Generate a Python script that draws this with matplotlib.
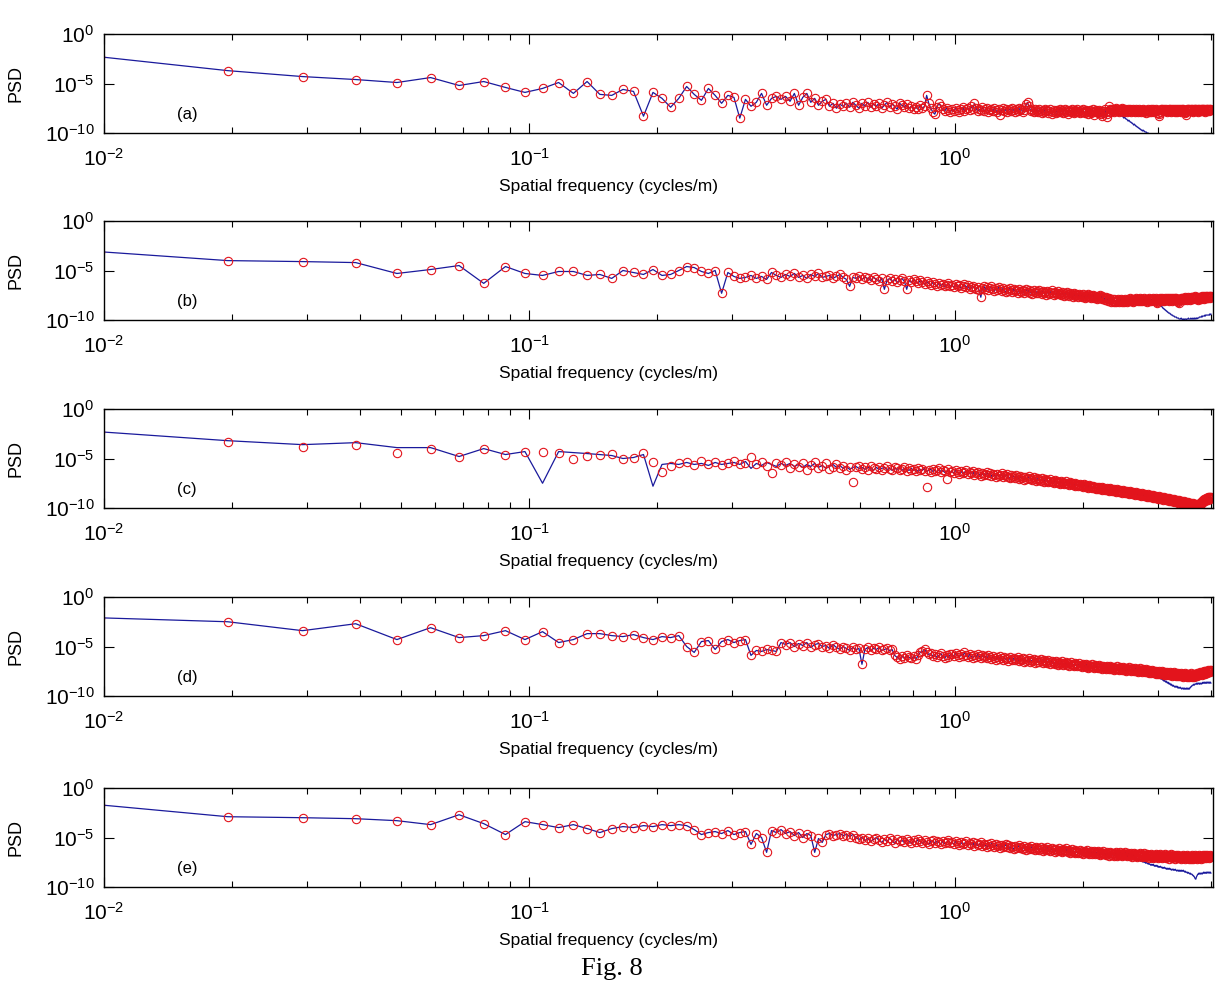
import numpy as np
import matplotlib
matplotlib.use("Agg")
import matplotlib.pyplot as plt
from matplotlib.ticker import LogLocator, NullLocator, NullFormatter

plt.rcParams['font.family'] = ['Liberation Sans', 'DejaVu Sans']
plt.rcParams['mathtext.fontset'] = 'custom'
plt.rcParams['mathtext.rm'] = 'Liberation Sans'
plt.rcParams['mathtext.it'] = 'Liberation Sans:italic'
plt.rcParams['mathtext.bf'] = 'Liberation Sans:bold'

# frequency step of the spectra (cycles/m); point k sits at k*df
df = 1 / 102.4

# log10(PSD), red circles, panel (a)
circ_a = [
    -2.3,-3.7,-4.3,-4.6,-4.9,-4.4,-5.2,-4.8,-5.4,-5.9,-5.5,-4.9,-6.0,-4.8,-6.1,-6.2,-5.6,-5.8,-8.3,-5.9,
    -6.5,-7.4,-6.5,-5.3,-6.1,-6.7,-5.5,-6.2,-7.0,-6.2,-6.4,-8.5,-6.6,-7.3,-6.9,-6.0,-7.2,-6.5,-6.3,-6.6,
    -6.3,-6.8,-6.0,-7.2,-6.4,-6.0,-6.9,-6.5,-7.2,-6.8,-6.6,-7.3,-7.0,-7.5,-7.1,-7.3,-7.0,-7.4,-6.9,-7.2,
    -7.5,-7.0,-7.3,-6.9,-7.4,-7.1,-7.3,-7.0,-7.5,-7.2,-6.9,-7.4,-7.1,-7.3,-7.6,-7.0,-7.2,-7.4,-7.1,-7.5,
    -7.3,-7.6,-7.4,-7.6,-7.2,-7.5,-7.3,-6.2,-7.0,-7.5,-7.9,-8.1,-7.4,-7.0,-7.3,-7.6,-7.8,-7.5,-7.7,-7.9,
    -7.6,-7.8,-7.5,-7.7,-7.9,-7.6,-7.4,-7.8,-7.6,-7.5,-7.7,-7.3,-7.6,-7.0,-7.5,-7.8,-7.6,-7.7,-7.4,-7.8,
    -7.6,-7.5,-7.9,-7.7,-7.6,-7.8,-7.5,-7.7,-7.9,-7.6,-8.2,-7.7,-7.5,-7.8,-7.6,-7.9,-7.7,-7.6,-7.8,-7.5,
    -7.7,-7.9,-7.6,-7.8,-7.5,-7.7,-7.6,-7.9,-7.7,-7.4,-7.1,-6.9,-7.3,-7.6,-7.8,-7.7,-7.9,-7.6,-7.8,-7.7,
    -7.9,-7.6,-7.8,-8.0,-7.7,-7.9,-7.6,-7.8,-7.7,-8.0,-7.8,-7.6,-8.1,-7.9,-7.7,-7.8,-8.0,-7.7,-7.9,-7.8,
    -7.6,-7.9,-7.7,-8.0,-7.8,-7.6,-7.9,-7.7,-8.1,-7.8,-7.7,-7.9,-7.6,-7.8,-8.0,-7.7,-7.9,-7.8,-7.6,-7.9,
    -7.8,-8.0,-7.7,-7.9,-7.6,-7.8,-8.0,-7.9,-7.7,-7.8,-8.1,-7.9,-7.7,-8.0,-7.8,-7.6,-7.9,-8.2,-7.8,-7.7,
    -7.9,-7.8,-8.0,-7.7,-7.9,-8.1,-7.8,-8.3,-8.0,-7.8,-7.6,-7.9,-8.4,-8.1,-7.8,-7.3,-7.6,-7.9,-7.7,-7.6,
    -7.8,-7.6,-7.9,-7.7,-7.5,-7.8,-7.6,-7.7,-7.9,-7.6,-7.8,-7.7,-7.5,-7.8,-7.6,-7.9,-7.7,-7.6,-7.8,-7.7,
    -7.9,-7.6,-7.8,-7.7,-7.6,-7.9,-7.7,-7.8,-7.6,-7.8,-7.7,-7.9,-7.6,-7.8,-7.7,-7.9,-7.8,-7.6,-7.8,-7.7,
    -7.9,-7.7,-7.8,-7.6,-7.9,-7.7,-7.8,-8.0,-7.7,-7.8,-7.6,-7.8,-7.9,-7.7,-7.8,-7.6,-7.9,-7.7,-7.8,-7.6,
    -7.8,-7.9,-7.7,-7.8,-7.6,-7.8,-7.7,-8.0,-8.1,-8.3,-7.9,-7.7,-7.6,-7.7,-7.6,-7.8,-7.7,-7.6,-7.8,-7.7,
    -7.6,-7.8,-7.7,-7.9,-7.7,-7.6,-7.8,-7.7,-7.6,-7.8,-7.9,-7.7,-7.6,-7.8,-7.7,-7.6,-7.9,-7.7,-7.8,-7.6,
    -7.7,-7.9,-7.6,-7.8,-7.7,-7.6,-7.8,-7.7,-7.9,-7.6,-7.8,-7.7,-7.6,-7.8,-7.7,-7.9,-8.0,-8.2,-7.9,-7.7,
    -7.6,-7.8,-7.6,-7.7,-7.6,-7.8,-7.7,-7.6,-7.8,-7.6,-7.7,-7.9,-7.8,-7.6,-7.7,-7.6,-7.8,-7.7,-7.6,-7.8,
    -7.7,-7.6,-7.9,-7.7,-7.6,-7.8,-7.7,-7.6,-7.8,-7.6,-7.7,-7.8,-7.6,-7.7,-7.6,-7.8,-7.7,-7.9,-7.7,-7.6,
    -7.8,-7.6,-7.7,-7.6,-7.8,-7.7,-7.6,-7.7,-7.6,-7.7,
]
# blue line, panel (a): same as circles up to k=245, then falls away
line_a = circ_a[:245] + [
    -7.9,-8.0,-8.0,-8.1,-8.2,-8.1,-8.2,-8.3,-8.3,-8.4,-8.5,-8.4,-8.5,-8.6,-8.6,-8.7,-8.8,-8.7,-8.8,-8.9,
    -8.9,-9.0,-9.0,-9.1,-9.2,-9.1,-9.2,-9.3,-9.3,-9.4,-9.4,-9.5,-9.5,-9.6,-9.6,-9.7,-9.7,-9.8,-9.7,-9.8,
    -9.8,-9.9,-9.9,-9.9,-10.0,-10.0,-10.0,-10.1,-10.1,-10.1,-10.2,-10.2,-10.2,-10.3,-10.3,-10.3,-10.4,-10.4,-10.4,-10.5,
]

circ_b = [
    -3.1,-4.0,-4.1,-4.2,-5.3,-4.9,-4.5,-6.3,-4.6,-5.3,-5.5,-5.1,-5.1,-5.5,-5.4,-5.8,-5.0,-5.2,-5.4,-4.9,
    -5.5,-5.4,-5.0,-4.6,-4.7,-5.1,-5.3,-5.0,-7.3,-5.2,-5.6,-5.8,-5.7,-5.5,-5.8,-5.6,-5.9,-5.2,-5.5,-5.7,
    -5.4,-5.6,-5.3,-5.7,-5.5,-5.8,-5.4,-5.6,-5.3,-5.7,-5.6,-5.5,-5.8,-5.6,-5.4,-5.7,-5.9,-6.6,-5.7,-5.8,
    -5.6,-5.9,-5.7,-5.8,-6.0,-5.7,-5.9,-6.1,-5.8,-6.9,-6.0,-5.8,-6.1,-5.9,-6.2,-6.0,-5.8,-6.1,-6.9,-6.0,
    -6.2,-5.9,-6.1,-6.3,-6.0,-6.2,-6.4,-6.1,-6.3,-6.5,-6.2,-6.4,-6.6,-6.3,-6.5,-6.4,-6.6,-6.5,-6.3,-6.6,
    -6.5,-6.7,-6.4,-6.6,-6.5,-6.8,-6.6,-6.4,-6.7,-6.5,-6.9,-6.7,-6.6,-6.8,-6.9,-6.7,-7.0,-7.7,-6.8,-6.6,
    -6.9,-6.7,-7.0,-6.8,-6.6,-6.9,-7.1,-6.8,-7.0,-6.7,-6.9,-7.1,-6.8,-7.0,-7.2,-6.9,-7.1,-6.8,-7.0,-7.2,
    -6.9,-7.1,-7.0,-7.3,-6.9,-7.1,-7.2,-7.0,-7.3,-7.1,-6.9,-7.2,-7.0,-7.3,-7.1,-7.4,-7.0,-7.2,-7.3,-7.1,
    -7.3,-7.0,-7.2,-7.4,-7.1,-7.3,-7.2,-7.5,-7.1,-7.3,-7.4,-7.2,-7.0,-7.3,-7.5,-7.2,-7.4,-7.3,-7.1,-7.4,
    -7.3,-7.5,-7.2,-7.4,-7.6,-7.3,-7.5,-7.2,-7.4,-7.6,-7.3,-7.5,-7.4,-7.7,-7.3,-7.5,-7.6,-7.4,-7.5,-7.7,
    -7.4,-7.6,-7.5,-7.7,-7.4,-7.6,-7.8,-7.5,-7.7,-7.6,-7.4,-7.7,-7.5,-7.8,-7.6,-7.7,-7.5,-7.8,-7.6,-7.7,
    -7.9,-7.6,-7.8,-7.7,-7.5,-7.8,-7.6,-7.9,-7.7,-7.8,-8.0,-7.7,-7.9,-7.8,-8.1,-7.8,-8.0,-7.9,-8.2,-7.9,
    -8.1,-8.2,-7.9,-8.1,-8.2,-8.0,-8.1,-7.9,-8.2,-8.0,-8.1,-7.9,-8.2,-8.0,-8.1,-8.2,-7.9,-8.1,-8.0,-8.2,
    -8.0,-7.9,-8.1,-8.0,-7.8,-8.1,-7.9,-8.0,-8.2,-7.9,-8.1,-8.0,-7.8,-8.0,-7.9,-8.1,-8.0,-7.9,-8.1,-7.8,
    -8.0,-7.9,-8.1,-8.0,-7.8,-8.0,-8.1,-7.9,-8.0,-8.2,-7.9,-8.0,-7.8,-8.1,-7.9,-8.0,-8.1,-7.9,-8.0,-7.8,
    -8.0,-7.9,-8.1,-7.8,-8.0,-8.2,-8.3,-8.1,-7.9,-8.0,-7.8,-8.0,-7.9,-8.1,-7.8,-8.0,-7.9,-8.1,-8.0,-7.8,
    -8.0,-7.9,-7.8,-8.0,-7.9,-8.1,-7.8,-8.0,-7.9,-7.8,-8.0,-7.9,-8.1,-7.8,-8.0,-7.9,-7.8,-8.0,-7.9,-7.8,
    -8.0,-7.9,-8.1,-8.2,-8.3,-8.0,-7.9,-7.8,-8.0,-7.9,-7.8,-8.0,-7.9,-7.8,-8.0,-7.9,-7.7,-7.9,-7.8,-8.0,
    -7.9,-7.8,-7.7,-7.9,-7.8,-8.0,-7.9,-7.7,-7.8,-7.9,-7.7,-7.8,-7.9,-7.7,-7.8,-7.6,-7.8,-7.7,-7.9,-7.8,
    -7.7,-7.9,-8.0,-7.8,-7.7,-7.9,-7.8,-7.7,-7.9,-7.8,-7.6,-7.8,-7.7,-7.9,-7.8,-7.6,-7.7,-7.8,-7.6,-7.7,
    -7.8,-7.6,-7.7,-7.8,-7.6,-7.7,-7.6,-7.8,-7.7,-7.6,
]
line_b = circ_b[:305] + [
    -8.1,-8.2,-8.3,-8.3,-8.4,-8.5,-8.5,-8.6,-8.6,-8.7,-8.8,-8.8,-8.9,-8.9,-9.0,-9.0,-9.1,-9.1,-9.2,-9.2,
    -9.3,-9.3,-9.3,-9.4,-9.4,-9.5,-9.5,-9.5,-9.6,-9.6,-9.6,-9.7,-9.7,-9.7,-9.7,-9.8,-9.8,-9.8,-9.8,-9.9,
    -9.9,-9.9,-9.9,-9.8,-9.9,-9.9,-10.0,-9.9,-9.9,-10.0,-9.9,-9.9,-9.9,-10.0,-9.9,-9.9,-9.9,-9.8,-9.9,-9.9,
    -9.9,-9.9,-9.8,-9.9,-9.9,-9.9,-9.8,-9.9,-9.9,-9.8,-9.9,-9.9,-9.8,-9.8,-9.9,-9.8,-9.8,-9.8,-9.8,-9.7,
    -9.7,-9.7,-9.7,-9.7,-9.6,-9.7,-9.6,-9.6,-9.6,-9.6,-9.6,-9.5,-9.6,-9.5,-9.5,-9.5,-9.5,-9.5,-9.5,-9.5,
    -9.5,-9.4,-9.5,-9.4,-9.4,
]

circ_c = [
    -2.3,-3.3,-3.8,-3.6,-4.4,-4.0,-4.8,-4.0,-4.6,-4.3,-4.3,-4.4,-5.0,-4.7,-4.6,-4.5,-5.1,-4.9,-4.4,-5.4,
    -6.4,-5.8,-5.5,-5.4,-5.7,-5.3,-5.6,-5.4,-5.7,-5.5,-5.3,-5.6,-5.5,-4.8,-5.6,-5.4,-5.8,-6.5,-5.5,-5.7,
    -5.4,-6.0,-5.6,-5.9,-5.5,-6.2,-5.7,-5.4,-6.0,-5.8,-5.5,-6.1,-5.9,-5.6,-6.0,-5.8,-6.2,-5.9,-7.4,-5.9,
    -5.8,-6.1,-5.9,-6.2,-5.8,-6.0,-6.1,-5.9,-6.2,-6.0,-5.8,-6.1,-6.2,-5.9,-6.0,-6.2,-6.1,-5.9,-6.3,-6.0,
    -6.2,-6.1,-6.3,-6.0,-6.2,-6.1,-6.3,-7.9,-6.2,-6.4,-6.1,-6.3,-6.2,-6.0,-6.4,-6.2,-6.3,-7.1,-6.1,-6.4,
    -6.3,-6.5,-6.2,-6.4,-6.6,-6.3,-6.5,-6.4,-6.2,-6.6,-6.4,-6.5,-6.3,-6.7,-6.5,-6.4,-6.6,-6.8,-6.5,-6.7,
    -6.6,-6.4,-6.7,-6.5,-6.8,-6.6,-6.7,-6.9,-6.6,-6.8,-6.7,-6.5,-6.9,-6.7,-6.8,-6.6,-6.9,-7.0,-6.7,-6.9,
    -6.8,-7.0,-6.7,-6.9,-7.1,-6.8,-7.0,-6.9,-7.2,-6.9,-7.1,-7.0,-6.8,-7.1,-7.0,-7.2,-6.9,-7.1,-7.3,-7.0,
    -7.2,-7.1,-7.3,-7.0,-7.2,-7.4,-7.1,-7.3,-7.2,-7.4,-7.3,-7.1,-7.4,-7.3,-7.5,-7.2,-7.4,-7.3,-7.5,-7.4,
    -7.6,-7.3,-7.5,-7.4,-7.6,-7.5,-7.3,-7.6,-7.5,-7.7,-7.4,-7.6,-7.5,-7.7,-7.6,-7.8,-7.5,-7.7,-7.6,-7.8,
    -7.7,-7.6,-7.8,-7.7,-7.9,-7.6,-7.8,-7.7,-7.9,-7.8,-8.0,-7.7,-7.9,-7.8,-8.0,-7.9,-7.8,-8.0,-7.9,-8.1,
    -7.9,-8.0,-8.1,-7.9,-8.1,-8.0,-8.2,-7.9,-8.1,-8.0,-8.2,-8.1,-8.0,-8.2,-8.1,-8.3,-8.0,-8.2,-8.1,-8.3,
    -8.2,-8.1,-8.3,-8.2,-8.4,-8.1,-8.3,-8.2,-8.4,-8.3,-8.2,-8.4,-8.3,-8.5,-8.2,-8.4,-8.3,-8.5,-8.4,-8.3,
    -8.5,-8.4,-8.6,-8.3,-8.5,-8.4,-8.6,-8.5,-8.4,-8.6,-8.5,-8.7,-8.4,-8.6,-8.5,-8.7,-8.6,-8.5,-8.7,-8.6,
    -8.8,-8.5,-8.7,-8.6,-8.8,-8.7,-8.6,-8.8,-8.7,-8.9,-8.6,-8.8,-8.7,-8.9,-8.8,-8.7,-8.9,-8.8,-9.0,-8.7,
    -8.9,-8.8,-9.0,-8.9,-8.8,-9.0,-8.9,-9.1,-8.8,-9.0,-8.9,-9.1,-9.0,-8.9,-9.1,-9.0,-9.2,-8.9,-9.1,-9.0,
    -9.2,-9.1,-9.0,-9.2,-9.1,-9.3,-9.0,-9.2,-9.1,-9.3,-9.2,-9.1,-9.3,-9.2,-9.4,-9.1,-9.3,-9.2,-9.4,-9.3,
    -9.2,-9.4,-9.3,-9.5,-9.2,-9.4,-9.3,-9.5,-9.4,-9.3,-9.5,-9.4,-9.6,-9.3,-9.5,-9.4,-9.6,-9.5,-9.4,-9.6,
    -9.5,-9.7,-9.4,-9.6,-9.5,-9.7,-9.6,-9.5,-9.7,-9.6,-9.8,-9.5,-9.7,-9.6,-9.8,-9.7,-9.6,-9.8,-9.7,-9.8,
    -9.6,-9.8,-9.7,-9.8,-9.6,-9.7,-9.5,-9.6,-9.4,-9.5,-9.3,-9.4,-9.2,-9.3,-9.1,-9.2,-9.3,-9.1,-9.2,-9.0,
    -9.1,-9.0,-9.2,-8.9,-9.0,-8.9,-9.1,-8.9,-9.0,-8.9,
]
line_c = [
    -2.3,-3.2,-3.6,-3.4,-3.9,-3.9,-4.8,-4.0,-4.6,-4.3,-7.5,-4.3,-4.4,-4.5,-4.6,-4.7,-5.0,-4.9,-4.6,-7.8,
    -5.6,-5.5,-5.6,-5.4,-5.6,-5.5,-5.7,-5.4,-5.6,-5.5,-5.4,-5.6,-5.3,-6.0,-5.5,-5.7,-5.4,-5.6,-5.8,-5.5,
    -5.7,-5.5,-5.8,-5.6,-5.9,-5.6,-5.8,-5.5,-5.9,-5.7,-6.0,-5.8,-5.6,-5.9,-5.7,-6.0,-5.8,-6.1,-5.9,-5.8,
    -6.0,-5.9,-6.1,-5.9,-6.0,-6.2,-5.9,-6.1,-6.0,-5.9,-6.1,-6.0,-6.2,-6.0,-6.1,-5.9,-6.2,-6.0,-6.1,-6.2,
    -6.0,-6.2,-6.1,-6.3,-6.1,-6.2,-6.0,-6.3,-6.2,-6.1,-6.3,-6.2,-6.4,-6.1,-6.3,-6.2,-6.4,-6.3,-6.2,-6.4,
] + circ_c[100:]

circ_d = [
    -2.1,-2.5,-3.4,-2.7,-4.3,-3.1,-4.1,-3.9,-3.4,-4.3,-3.5,-4.6,-4.3,-3.7,-3.7,-3.9,-4.0,-3.8,-4.1,-4.3,
    -4.0,-4.1,-3.9,-5.0,-5.6,-4.5,-4.4,-5.3,-4.5,-4.3,-4.6,-4.4,-4.3,-5.9,-5.4,-5.5,-5.3,-5.4,-5.5,-4.6,
    -4.8,-4.6,-5.0,-4.7,-4.9,-4.6,-5.1,-4.8,-4.7,-5.0,-4.9,-5.2,-4.8,-5.1,-5.3,-5.0,-5.2,-5.4,-5.1,-5.3,
    -5.2,-6.8,-5.3,-5.1,-5.4,-5.2,-5.3,-5.1,-5.4,-5.3,-5.2,-5.4,-5.3,-5.9,-6.1,-6.3,-6.0,-6.2,-5.9,-6.1,
    -6.2,-6.0,-6.3,-5.9,-5.6,-5.5,-5.3,-5.6,-5.8,-5.7,-6.0,-5.8,-6.1,-5.9,-5.7,-6.0,-6.2,-5.9,-6.1,-5.8,
    -5.8,-6.0,-5.7,-5.9,-6.1,-5.8,-6.0,-5.6,-5.9,-6.1,-5.8,-6.0,-6.2,-5.9,-6.1,-5.8,-6.0,-6.2,-5.9,-6.1,
    -6.0,-6.2,-5.9,-6.1,-6.3,-6.0,-6.2,-6.4,-6.1,-6.3,-6.0,-6.2,-6.4,-6.1,-6.3,-6.2,-6.5,-6.1,-6.3,-6.4,
    -6.2,-6.4,-6.3,-6.1,-6.5,-6.3,-6.4,-6.2,-6.6,-6.3,-6.5,-6.4,-6.2,-6.6,-6.4,-6.5,-6.3,-6.7,-6.4,-6.6,
    -6.4,-6.6,-6.3,-6.5,-6.7,-6.4,-6.6,-6.5,-6.7,-6.4,-6.6,-6.8,-6.5,-6.7,-6.6,-6.8,-6.5,-6.7,-6.9,-6.6,
    -6.8,-6.7,-6.5,-6.9,-6.7,-6.8,-6.6,-6.9,-6.7,-7.0,-6.8,-6.6,-6.9,-6.8,-7.0,-6.7,-6.9,-6.8,-7.0,-6.9,
    -6.7,-7.0,-6.9,-7.1,-6.8,-7.0,-6.9,-7.1,-6.8,-7.0,-7.2,-6.9,-7.1,-7.0,-6.8,-7.1,-7.0,-7.2,-6.9,-7.1,
    -7.0,-7.2,-7.1,-6.9,-7.2,-7.0,-7.1,-7.3,-7.0,-7.2,-7.1,-7.3,-7.0,-7.2,-7.1,-7.3,-7.2,-7.0,-7.3,-7.1,
    -7.2,-7.4,-7.1,-7.3,-7.2,-7.0,-7.3,-7.2,-7.4,-7.1,-7.3,-7.2,-7.4,-7.3,-7.1,-7.4,-7.2,-7.3,-7.5,-7.2,
    -7.4,-7.3,-7.1,-7.4,-7.3,-7.5,-7.2,-7.4,-7.3,-7.5,-7.4,-7.2,-7.5,-7.3,-7.4,-7.6,-7.3,-7.5,-7.4,-7.2,
    -7.5,-7.4,-7.6,-7.3,-7.5,-7.4,-7.6,-7.5,-7.3,-7.6,-7.4,-7.5,-7.7,-7.4,-7.6,-7.5,-7.7,-7.4,-7.6,-7.5,
    -7.7,-7.5,-7.6,-7.8,-7.5,-7.7,-7.6,-7.8,-7.5,-7.7,-7.6,-7.8,-7.7,-7.5,-7.8,-7.6,-7.7,-7.9,-7.6,-7.8,
    -7.7,-7.9,-7.6,-7.8,-7.7,-7.9,-7.8,-7.6,-7.9,-7.7,-7.8,-8.0,-7.7,-7.9,-7.8,-7.6,-7.9,-7.8,-8.0,-7.7,
    -7.9,-7.8,-8.0,-7.7,-7.9,-7.8,-8.0,-7.9,-7.7,-8.0,-7.8,-7.9,-8.1,-7.8,-8.0,-7.9,-7.7,-8.0,-7.9,-8.1,
    -7.8,-8.0,-7.9,-8.1,-7.8,-8.0,-7.9,-7.7,-8.0,-7.9,-8.1,-7.8,-8.0,-7.9,-8.1,-8.0,-7.8,-8.0,-7.9,-7.7,
    -8.0,-7.8,-7.9,-7.7,-7.9,-7.8,-7.6,-7.8,-7.7,-7.9,-7.6,-7.8,-7.7,-7.5,-7.7,-7.6,-7.8,-7.5,-7.7,-7.6,
    -7.5,-7.7,-7.6,-7.4,-7.6,-7.5,-7.4,-7.6,-7.5,-7.4,
]
line_d = circ_d[:305] + [
    -7.9,-8.0,-8.1,-8.0,-8.1,-8.2,-8.2,-8.3,-8.2,-8.3,-8.4,-8.4,-8.5,-8.4,-8.5,-8.6,-8.5,-8.6,-8.7,-8.6,
    -8.7,-8.8,-8.7,-8.8,-8.9,-8.8,-8.9,-9.0,-8.9,-9.0,-9.0,-9.1,-9.0,-9.1,-9.1,-9.0,-9.1,-9.2,-9.1,-9.2,
    -9.2,-9.1,-9.2,-9.2,-9.3,-9.2,-9.2,-9.3,-9.2,-9.3,-9.2,-9.3,-9.3,-9.2,-9.3,-9.2,-9.3,-9.3,-9.2,-9.3,
    -9.2,-9.1,-9.1,-9.0,-9.0,-8.9,-8.9,-8.9,-8.8,-8.9,-8.8,-8.8,-8.8,-8.7,-8.8,-8.7,-8.8,-8.7,-8.7,-8.8,
    -8.7,-8.8,-8.7,-8.7,-8.8,-8.7,-8.7,-8.6,-8.7,-8.7,-8.6,-8.7,-8.7,-8.6,-8.7,-8.6,-8.7,-8.6,-8.6,-8.7,
    -8.6,-8.7,-8.6,-8.6,-8.7,
]

circ_e = [
    -1.7,-2.9,-3.0,-3.1,-3.3,-3.7,-2.7,-3.6,-4.7,-3.4,-3.7,-4.0,-3.7,-4.1,-4.5,-4.1,-3.9,-4.0,-3.8,-3.9,
    -3.7,-3.8,-3.7,-3.8,-4.2,-4.7,-4.5,-4.4,-4.6,-4.3,-4.7,-4.5,-4.4,-5.7,-4.6,-5.0,-6.5,-4.3,-4.5,-4.2,
    -4.6,-4.4,-4.8,-4.5,-5.0,-4.6,-4.8,-6.5,-5.1,-5.5,-4.7,-4.6,-4.8,-4.7,-4.6,-4.8,-4.7,-4.9,-4.7,-5.0,
    -5.2,-5.0,-5.3,-5.1,-5.4,-5.2,-5.0,-5.3,-5.5,-5.2,-5.4,-5.1,-5.3,-5.6,-5.2,-5.4,-5.3,-5.5,-5.2,-5.4,
    -5.6,-5.3,-5.5,-5.2,-5.4,-5.6,-5.3,-5.5,-5.7,-5.4,-5.3,-5.6,-5.4,-5.5,-5.7,-5.4,-5.6,-5.5,-5.3,-5.6,
    -5.5,-5.7,-5.4,-5.6,-5.8,-5.5,-5.7,-5.6,-5.4,-5.8,-5.6,-5.7,-5.5,-5.9,-5.6,-5.8,-5.7,-5.5,-5.9,-5.7,
    -5.8,-6.0,-5.7,-5.9,-5.6,-5.8,-6.0,-5.7,-5.9,-5.8,-6.1,-5.8,-6.0,-5.9,-5.7,-6.0,-5.8,-6.1,-5.9,-6.0,
    -6.2,-5.9,-6.1,-6.0,-5.8,-6.1,-6.0,-6.2,-5.9,-6.1,-6.3,-6.0,-6.2,-6.1,-5.9,-6.2,-6.1,-6.3,-6.0,-6.2,
    -6.1,-6.3,-6.0,-6.2,-6.4,-6.1,-6.3,-6.2,-6.0,-6.3,-6.2,-6.4,-6.1,-6.3,-6.2,-6.5,-6.2,-6.4,-6.3,-6.1,
    -6.4,-6.3,-6.5,-6.2,-6.4,-6.3,-6.1,-6.4,-6.5,-6.3,-6.6,-6.4,-6.2,-6.5,-6.4,-6.6,-6.3,-6.5,-6.4,-6.6,
    -6.5,-6.3,-6.6,-6.4,-6.7,-6.5,-6.4,-6.6,-6.5,-6.3,-6.6,-6.7,-6.5,-6.4,-6.7,-6.5,-6.6,-6.4,-6.7,-6.6,
    -6.5,-6.7,-6.4,-6.6,-6.8,-6.5,-6.7,-6.6,-6.4,-6.7,-6.6,-6.8,-6.5,-6.7,-6.6,-6.9,-6.6,-6.5,-6.8,-6.6,
    -6.7,-6.9,-6.6,-6.8,-6.5,-6.7,-6.9,-6.6,-6.8,-6.7,-6.5,-6.8,-6.7,-6.9,-6.6,-6.8,-6.7,-6.5,-6.8,-6.7,
    -6.9,-6.6,-6.8,-6.7,-6.9,-6.6,-6.8,-7.0,-6.7,-6.8,-6.6,-6.9,-6.7,-6.8,-7.0,-6.7,-6.9,-6.8,-6.6,-6.9,
    -6.8,-7.0,-6.7,-6.9,-6.8,-6.6,-6.9,-6.8,-7.0,-6.7,-6.9,-6.8,-7.1,-6.8,-6.9,-6.7,-7.0,-6.8,-6.9,-7.1,
    -6.8,-7.0,-6.9,-6.7,-7.0,-6.8,-6.9,-7.1,-6.8,-7.0,-6.9,-6.7,-7.0,-6.9,-7.1,-6.8,-7.0,-6.9,-6.7,-7.0,
    -6.9,-7.1,-6.8,-7.0,-6.9,-7.2,-6.8,-7.0,-6.9,-6.7,-7.0,-6.9,-7.1,-6.8,-7.0,-6.9,-7.2,-6.9,-7.0,-6.8,
    -7.1,-6.9,-7.0,-6.8,-7.1,-6.9,-7.0,-7.2,-6.9,-7.1,-7.0,-6.8,-7.1,-6.9,-7.0,-7.2,-6.9,-7.1,-7.0,-6.8,
    -7.1,-7.0,-6.9,-7.2,-7.0,-7.1,-6.9,-7.2,-7.0,-6.8,-7.1,-7.0,-7.2,-6.9,-7.1,-7.0,-6.8,-7.1,-7.0,-7.2,
    -6.9,-7.1,-7.0,-6.8,-7.1,-6.9,-7.0,-7.2,-6.9,-7.1,-7.0,-6.8,-7.1,-7.0,-6.9,-7.1,-6.8,-7.0,-6.9,-7.1,
    -7.0,-6.8,-7.0,-6.9,-7.1,-6.9,-7.0,-6.8,-7.0,-6.9,
]
line_e = circ_e[:270] + [
    -6.9,-7.1,-7.0,-7.2,-7.1,-7.2,-7.3,-7.2,-7.3,-7.4,-7.3,-7.4,-7.4,-7.5,-7.4,-7.5,-7.5,-7.6,-7.5,-7.6,
    -7.6,-7.7,-7.6,-7.7,-7.7,-7.8,-7.7,-7.8,-7.8,-7.7,-7.8,-7.9,-7.8,-7.9,-7.9,-7.8,-7.9,-8.0,-7.9,-8.0,
    -8.0,-7.9,-8.0,-8.0,-8.1,-8.0,-8.1,-8.1,-8.0,-8.1,-8.1,-8.2,-8.1,-8.2,-8.1,-8.2,-8.2,-8.1,-8.2,-8.2,
    -8.3,-8.2,-8.2,-8.3,-8.2,-8.3,-8.3,-8.2,-8.3,-8.3,-8.4,-8.3,-8.3,-8.4,-8.3,-8.4,-8.3,-8.4,-8.4,-8.3,
    -8.4,-8.4,-8.3,-8.4,-8.4,-8.5,-8.4,-8.5,-8.5,-8.5,-8.6,-8.5,-8.6,-8.6,-8.6,-8.7,-8.6,-8.7,-8.7,-8.7,
    -8.8,-8.8,-8.9,-8.9,-9.0,-9.1,-9.2,-9.2,-9.0,-8.9,-8.8,-8.7,-8.7,-8.6,-8.7,-8.6,-8.6,-8.7,-8.6,-8.6,
    -8.7,-8.6,-8.6,-8.5,-8.6,-8.6,-8.5,-8.6,-8.6,-8.5,-8.6,-8.5,-8.5,-8.6,-8.5,-8.5,-8.6,-8.5,-8.5,-8.6,
]

tags = ["(a)", "(b)", "(c)", "(d)", "(e)"]
lines = [line_a, line_b, line_c, line_d, line_e]
circles = [circ_a, circ_b, circ_c, circ_d, circ_e]
tops = [34, 221, 409, 597, 788]   # pixel row of each axes' top edge

W, H = 1225, 982
fig = plt.figure(figsize=(W / 100, H / 100), dpi=100)

for tag, ln, cc, top in zip(tags, lines, circles, tops):
    ax = fig.add_axes([104 / W, 1 - (top + 99) / H, 1109 / W, 99 / H])
    f_ln = df * np.arange(1, len(ln) + 1)
    f_cc = df * np.arange(1, len(cc) + 1)
    ax.plot(f_ln, 10.0 ** np.array(ln), color='#1a1a9c', lw=0.9)
    ax.plot(f_cc, 10.0 ** np.array(cc), 'o', ms=6, mfc='none', mec='#e3141c', mew=0.8)
    ax.set_xscale('log')
    ax.set_yscale('log')
    ax.set_xlim(0.01, 4.05)
    ax.set_ylim(1e-10, 1)

    ax.set_xticks([0.01, 0.1, 1])
    ax.set_xticklabels([r'$10^{-2}$', r'$10^{-1}$', r'$10^{0}$'])
    ax.xaxis.set_minor_locator(LogLocator(base=10, subs=np.arange(2, 10)))
    ax.xaxis.set_minor_formatter(NullFormatter())
    ax.set_yticks([1e-10, 1e-5, 1])
    ax.set_yticklabels([r'$10^{-10}$', r'$10^{-5}$', r'$10^{0}$'])
    ax.yaxis.set_minor_locator(NullLocator())

    ax.tick_params(which='both', direction='in', top=True, right=True,
                   labelsize=15, width=0.8)
    ax.tick_params(which='major', length=7)
    ax.tick_params(which='minor', length=4.5)
    ax.tick_params(axis='x', pad=11)
    ax.tick_params(axis='y', pad=7)
    for s in ax.spines.values():
        s.set_linewidth(1.0)

    ax.set_xlabel('Spatial frequency (cycles/m)', fontsize=12.5)
    ax.xaxis.set_label_coords(0.455, -0.46)
    ax.set_ylabel('PSD', fontsize=13)
    ax.yaxis.set_label_coords(-0.072, 0.5)
    ax.text(0.066, 0.19, tag, transform=ax.transAxes, fontsize=12, va='center')

fig.text(612 / W, 1 - 980 / H, 'Fig. 8', family=['Liberation Serif', 'DejaVu Serif'],
         fontsize=19, ha='center', va='bottom')

fig.savefig('out.png', dpi=100)
